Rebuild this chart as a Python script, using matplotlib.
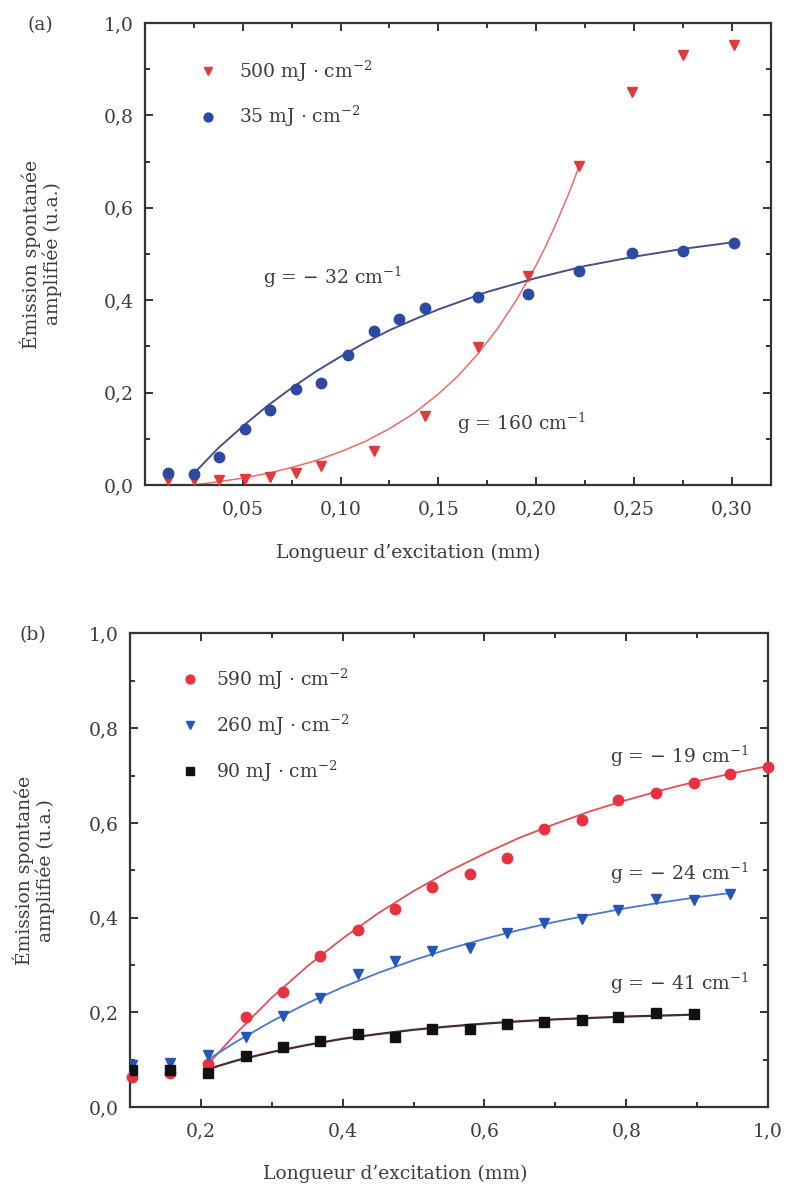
import matplotlib
matplotlib.use("Agg")
import matplotlib.pyplot as plt
from matplotlib.ticker import MultipleLocator, FuncFormatter

plt.rcParams['font.family'] = ['DejaVu Serif']
plt.rcParams['mathtext.fontset'] = 'dejavuserif'

# ---------------- Panel (a) data ----------------
a_x_35 = [0.012, 0.025, 0.038, 0.051, 0.064, 0.077, 0.090, 0.104, 0.117, 0.130,
          0.143, 0.170, 0.196, 0.222, 0.249, 0.275, 0.301]
a_y_35 = [0.025, 0.024, 0.061, 0.121, 0.162, 0.207, 0.221, 0.281, 0.334, 0.359,
          0.382, 0.406, 0.413, 0.464, 0.502, 0.507, 0.523]
a_x_500 = [0.012, 0.025, 0.038, 0.051, 0.064, 0.077, 0.090, 0.117, 0.143, 0.170,
           0.196, 0.222, 0.249, 0.275, 0.301]
a_y_500 = [0.010, 0.010, 0.011, 0.012, 0.018, 0.027, 0.041, 0.074, 0.149, 0.299,
           0.452, 0.691, 0.851, 0.931, 0.952]
# fitted curves
a_fit35_x = [0.025, 0.0375, 0.05, 0.0625, 0.075, 0.0875, 0.10, 0.1125, 0.125, 0.1375,
             0.15, 0.175, 0.20, 0.225, 0.25, 0.275, 0.30]
a_fit35_y = [0.025, 0.080, 0.127, 0.171, 0.210, 0.246, 0.278, 0.308, 0.335, 0.358,
             0.380, 0.418, 0.448, 0.474, 0.494, 0.511, 0.525]
a_fit500_x = [0.025, 0.0375, 0.05, 0.0625, 0.075, 0.0875, 0.10, 0.1125, 0.125, 0.1375,
              0.15, 0.16, 0.17, 0.18, 0.19, 0.20, 0.205, 0.21, 0.216, 0.222]
a_fit500_y = [0.0, 0.007, 0.015, 0.025, 0.038, 0.053, 0.072, 0.094, 0.122, 0.155,
              0.197, 0.236, 0.283, 0.337, 0.401, 0.476, 0.518, 0.564, 0.624, 0.690]
a_labels = ["500 mJ · cm$^{-2}$", "35 mJ · cm$^{-2}$"]
a_gains = ["g = − 32 cm$^{-1}$", "g = 160 cm$^{-1}$"]

# ---------------- Panel (b) data ----------------
b_x = [0.103, 0.157, 0.210, 0.263, 0.316, 0.368, 0.421, 0.474, 0.526, 0.579,
       0.632, 0.684, 0.737, 0.789, 0.842, 0.895, 0.947, 1.000]
b_y_590 = [0.063, 0.072, 0.090, 0.190, 0.243, 0.319, 0.374, 0.419, 0.465, 0.493,
           0.525, 0.587, 0.606, 0.648, 0.664, 0.685, 0.703, 0.719]
b_y_260 = [0.088, 0.093, 0.109, 0.148, 0.192, 0.231, 0.280, 0.308, 0.330, 0.335,
           0.368, 0.388, 0.396, 0.417, 0.440, 0.438, 0.450]
b_y_90 = [0.079, 0.079, 0.072, 0.107, 0.127, 0.140, 0.155, 0.148, 0.164, 0.164,
          0.175, 0.179, 0.183, 0.190, 0.199, 0.197]
b_fit_x = [0.21, 0.25, 0.30, 0.35, 0.40, 0.45, 0.50, 0.55, 0.60, 0.65, 0.70,
           0.75, 0.80, 0.85, 0.90, 0.95, 1.00]
b_fit590 = [0.090, 0.156, 0.231, 0.297, 0.356, 0.409, 0.456, 0.498, 0.535, 0.569,
            0.598, 0.625, 0.648, 0.669, 0.688, 0.705, 0.720]
b_fit260_x = [0.21, 0.25, 0.30, 0.35, 0.40, 0.45, 0.50, 0.55, 0.60, 0.65, 0.70,
              0.75, 0.80, 0.85, 0.90, 0.947]
b_fit260 = [0.100, 0.138, 0.181, 0.219, 0.253, 0.283, 0.310, 0.334, 0.355, 0.374,
            0.391, 0.406, 0.420, 0.432, 0.443, 0.452]
b_fit90_x = [0.21, 0.25, 0.30, 0.35, 0.40, 0.45, 0.50, 0.55, 0.60, 0.65, 0.70,
             0.75, 0.80, 0.85, 0.895]
b_fit90 = [0.080, 0.098, 0.116, 0.131, 0.144, 0.154, 0.163, 0.170, 0.176, 0.181,
           0.185, 0.188, 0.191, 0.193, 0.195]
b_labels = ["590 mJ · cm$^{-2}$", "260 mJ · cm$^{-2}$", "90 mJ · cm$^{-2}$"]
b_gains = ["g = − 19 cm$^{-1}$", "g = − 24 cm$^{-1}$", "g = − 41 cm$^{-1}$"]

xlabel = "Longueur d’excitation (mm)"
ylabel = "Émission spontanée\namplifiée (u.a.)"

TXT = '#3c3c3c'
FS = 13.5


def comma(fmt):
    return FuncFormatter(lambda v, p: (fmt % v).replace('.', ','))


def style(ax):
    for s in ax.spines.values():
        s.set_linewidth(1.6)
        s.set_color('#333333')
    ax.tick_params(which='both', direction='in', top=True, right=True,
                   colors='#333333', labelcolor=TXT, labelsize=FS, width=1.4)
    ax.tick_params(which='major', length=6)
    ax.tick_params(axis='x', which='major', pad=11)
    ax.tick_params(axis='y', which='major', pad=8)
    ax.tick_params(which='minor', length=3.5)
    ax.yaxis.set_major_locator(MultipleLocator(0.2))
    ax.yaxis.set_minor_locator(MultipleLocator(0.1))
    ax.yaxis.set_major_formatter(comma('%.1f'))


fig = plt.figure(figsize=(7.9, 11.89), dpi=100)

# ---- (a) ----
axa = fig.add_axes([0.1835, 0.5921, 0.7924, 0.3886])
style(axa)
axa.plot(a_fit500_x, a_fit500_y, color='#f06a6a', lw=1.1, zorder=2)
axa.plot(a_fit35_x, a_fit35_y, color='#4a4f86', lw=1.4, zorder=2)
axa.plot(a_x_500, a_y_500, 'v', color='#e23a3a', ms=7.5, ls='none', label=a_labels[0], zorder=3)
axa.plot(a_x_35, a_y_35, 'o', color='#2c4aa2', ms=7.5, ls='none', label=a_labels[1], zorder=4)
axa.set_xlim(0.0, 0.32)
axa.set_ylim(0.0, 1.0)
axa.xaxis.set_major_locator(MultipleLocator(0.05))
axa.xaxis.set_minor_locator(MultipleLocator(0.025))
axa.xaxis.set_major_formatter(FuncFormatter(
    lambda v, p: '' if abs(v) < 1e-9 else ('%.2f' % v).replace('.', ',')))
axa.set_xlabel(xlabel, fontsize=FS, color=TXT)
axa.xaxis.set_label_coords(0.42, -0.128)
axa.set_ylabel(ylabel, fontsize=FS, color=TXT, linespacing=1.05)
axa.yaxis.set_label_coords(-0.133, 0.5)
axa.legend(loc='upper left', bbox_to_anchor=(0.055, 0.96), frameon=False,
           fontsize=FS, labelspacing=1.1, handletextpad=1.1, markerscale=0.85,
           handlelength=1.2, labelcolor=TXT)
axa.text(0.0605, 0.45, a_gains[0], fontsize=FS, color=TXT, va='center', ha='left')
axa.text(0.1596, 0.134, a_gains[1], fontsize=FS, color=TXT, va='center', ha='left')
fig.text(0.035, 0.979, "(a)", fontsize=FS, color=TXT, va='center', ha='left')

# ---- (b) ----
axb = fig.add_axes([0.1646, 0.0690, 0.8076, 0.3982])
style(axb)
axb.plot(b_fit_x, b_fit590, color='#e0505a', lw=1.3, zorder=2)
axb.plot(b_fit260_x, b_fit260, color='#4b78c8', lw=1.3, zorder=2)
axb.plot(b_fit90_x, b_fit90, color='#4a2a2e', lw=1.6, zorder=2)
axb.plot(b_x, b_y_590, 'o', color='#e8323f', ms=7.5, ls='none', label=b_labels[0], zorder=3, clip_on=False)
axb.plot(b_x[:len(b_y_260)], b_y_260, 'v', color='#2456b8', ms=7.5, ls='none', label=b_labels[1], zorder=4)
axb.plot(b_x[:len(b_y_90)], b_y_90, 's', color='#111111', ms=6.5, ls='none', label=b_labels[2], zorder=5)
axb.set_xlim(0.1, 1.0)
axb.set_ylim(0.0, 1.0)
axb.xaxis.set_major_locator(MultipleLocator(0.2))
axb.xaxis.set_minor_locator(MultipleLocator(0.1))
axb.xaxis.set_major_formatter(comma('%.1f'))
axb.set_xlabel(xlabel, fontsize=FS, color=TXT)
axb.xaxis.set_label_coords(0.415, -0.122)
axb.set_ylabel(ylabel, fontsize=FS, color=TXT, linespacing=1.05)
axb.yaxis.set_label_coords(-0.118, 0.5)
axb.legend(loc='upper left', bbox_to_anchor=(0.05, 0.965), frameon=False,
           fontsize=FS, labelspacing=1.1, handletextpad=0.8, markerscale=0.85,
           handlelength=1.2, labelcolor=TXT)
axb.text(0.973, 0.74, b_gains[0], fontsize=FS, color=TXT, va='center', ha='right')
axb.text(0.973, 0.494, b_gains[1], fontsize=FS, color=TXT, va='center', ha='right')
axb.text(0.973, 0.261, b_gains[2], fontsize=FS, color=TXT, va='center', ha='right')
fig.text(0.025, 0.466, "(b)", fontsize=FS, color=TXT, va='center', ha='left')

fig.savefig("out.png", dpi=100, facecolor='white')
